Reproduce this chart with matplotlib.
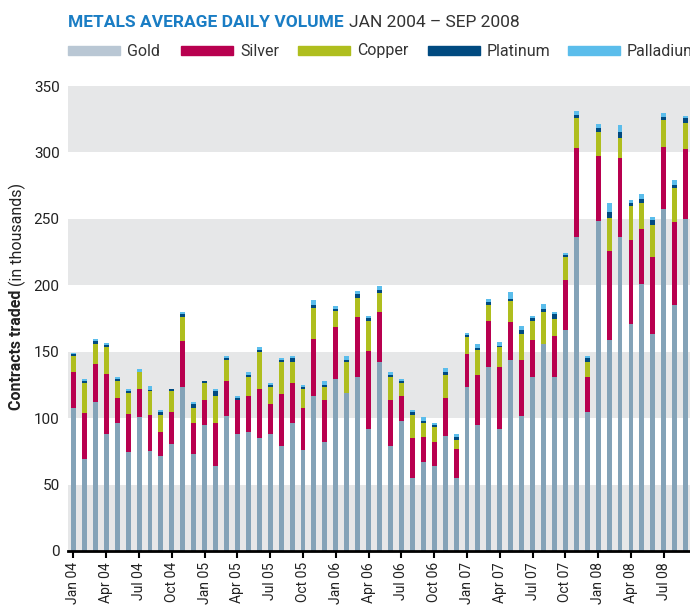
# Metals average daily volume, Jan 2004 - Sep 2008, stacked bars
import matplotlib
matplotlib.use("Agg")
import matplotlib.pyplot as plt
import matplotlib.patches as mpatches
import numpy as np

plt.rcParams['font.family'] = ['Roboto', 'DejaVu Sans']

# Month ticks every quarter
tick_labels = ["Jan 04", "Apr 04", "Jul 04", "Oct 04", "Jan 05", "Apr 05", "Jul 05", "Oct 05",
               "Jan 06", "Apr 06", "Jul 06", "Oct 06", "Jan 07", "Apr 07", "Jul 07", "Oct 07",
               "Jan 08", "Apr 08", "Jul 08"]

# Contracts traded per month (thousands)
gold = [108.0, 68.9, 111.8, 87.7, 96.7, 74.2, 100.5, 74.9, 71.2, 80.2,
        123.8, 72.7, 95.2, 63.7, 101.3, 87.7, 89.2, 84.7, 87.7, 79.4,
        96.0, 75.7, 116.3, 81.7, 129.1, 119.3, 130.6, 91.5, 141.9, 78.7,
        97.5, 54.6, 66.7, 63.7, 86.2, 54.6, 123.8, 94.5, 138.8, 91.5,
        143.4, 101.3, 130.6, 156.1, 130.6, 166.7, 236.6, 104.3, 248.6, 159.1,
        236.6, 171.2, 201.3, 163.7, 257.6, 185.5, 250.1]
silver = [27.1, 34.6, 28.6, 45.9, 18.8, 28.6, 21.1, 27.8, 18.0, 24.8,
          34.6, 24.0, 18.8, 32.3, 26.3, 25.6, 27.1, 36.9, 23.3, 38.4,
          30.8, 31.6, 43.6, 31.6, 39.8, 0.0, 45.8, 59.4, 38.3, 34.6,
          19.5, 30.1, 18.8, 18.0, 29.3, 21.8, 24.8, 37.6, 34.6, 47.3,
          28.6, 42.8, 28.5, 0.0, 31.6, 37.6, 66.9, 26.3, 48.9, 67.0,
          59.4, 63.1, 41.3, 57.9, 46.7, 62.4, 52.7]
copper = [11.3, 23.3, 15.7, 20.3, 12.8, 15.8, 12.8, 18.0, 12.8, 15.8,
          18.0, 11.3, 12.1, 21.0, 15.8, 0.7, 15.0, 28.5, 12.8, 24.1,
          15.8, 14.3, 23.3, 9.8, 12.1, 22.6, 14.3, 22.5, 14.3, 18.0,
          9.8, 17.3, 10.5, 12.0, 17.3, 6.8, 12.8, 19.5, 12.1, 15.1,
          16.5, 19.6, 14.3, 24.1, 12.8, 17.3, 22.6, 11.3, 18.0, 24.8,
          15.0, 25.6, 19.6, 24.0, 20.3, 25.5, 19.5]
platinum = [1.7, 1.5, 2.3, 1.5, 1.0, 1.5, 0.3, 0.3, 2.3, 0.8,
            2.3, 2.3, 1.5, 3.1, 2.2, 1.5, 1.5, 1.5, 1.5, 1.5,
            2.3, 1.5, 2.3, 2.2, 1.5, 1.7, 3.0, 2.3, 2.2, 1.5,
            1.5, 2.3, 2.2, 0.8, 2.3, 2.3, 1.5, 1.5, 2.2, 0.7,
            1.5, 3.0, 2.3, 2.3, 3.7, 1.5, 2.2, 3.7, 3.0, 4.5,
            4.5, 2.3, 3.0, 3.8, 2.2, 2.3, 3.8]
palladium = [1.3, 1.3, 1.5, 1.5, 1.3, 1.5, 2.3, 3.0, 1.5, 0.7,
             1.5, 1.5, 0.7, 2.2, 1.5, 0.8, 2.3, 2.3, 1.5, 2.2,
             2.2, 2.2, 3.7, 3.0, 2.2, 2.8, 2.3, 1.5, 3.0, 2.3,
             1.5, 2.2, 2.3, 2.2, 3.0, 2.2, 1.5, 3.0, 2.3, 3.0,
             5.2, 3.0, 1.5, 3.7, 1.5, 1.5, 3.0, 1.5, 3.1, 6.8,
             5.3, 2.2, 3.7, 2.2, 3.0, 3.7, 1.5]

series = [("Gold", gold, "#84a3b8", "#b9c7d4"),
          ("Silver", silver, "#b8004f", "#b8004f"),
          ("Copper", copper, "#afbe1e", "#afbe1e"),
          ("Platinum", platinum, "#004a80", "#004a80"),
          ("Palladium", palladium, "#5bbdeb", "#5bbdeb")]

W, H = 690, 605
fig = plt.figure(figsize=(W / 100, H / 100), dpi=100)
ax = fig.add_axes([68 / W, 54 / H, 622 / W, 465 / H])

x = np.arange(len(gold))
bottom = np.zeros(len(gold))
for name, vals, col, _ in series:
    ax.bar(x, vals, width=0.45, bottom=bottom, color=col, linewidth=0, zorder=2)
    bottom += np.array(vals)

# alternating background bands
for lo in range(0, 350, 100):
    ax.axhspan(lo, lo + 50, color="#e6e7e8", lw=0, zorder=0)

ax.set_xlim(-0.5, 56.4)
ax.set_ylim(0, 350)
ax.set_yticks(range(0, 351, 50))
ax.set_xticks(np.arange(0, len(gold), 3))
ax.set_xticklabels(tick_labels, rotation=90, fontsize=10, color="#222222")
ax.tick_params(axis="y", length=0, pad=6, labelsize=11, labelcolor="#222222")
ax.tick_params(axis="x", length=5, width=1.5, color="black", pad=3)
for s in ["top", "right", "left"]:
    ax.spines[s].set_visible(False)
ax.spines["bottom"].set_linewidth(2)
ax.spines["bottom"].set_zorder(3)

# title in two styles
fig.canvas.draw()
r = fig.canvas.get_renderer()
t1 = fig.text(68 / W, 1 - 27 / H, "METALS AVERAGE DAILY VOLUME", color="#1a7dc4",
              fontsize=12.5, fontweight="bold", va="baseline")
bb = t1.get_window_extent(r)
fig.text(bb.x1 / W + 5 / W, 1 - 27 / H, "JAN 2004 \u2013 SEP 2008", color="#333333",
         fontsize=12.5, va="baseline")

# legend
leg_x = [68, 181, 298, 428, 568]
for (name, _, _, lcol), lx in zip(series, leg_x):
    fig.patches.append(mpatches.Rectangle((lx / W, 1 - 55 / H), 52 / W, 9 / H,
                                          color=lcol, transform=fig.transFigure))
    fig.text((lx + 59) / W, 1 - 51 / H, name, fontsize=11.5, color="#333333", va="center")

# y label in two styles
y1 = fig.text(17 / W, 1 - 410 / H, "Contracts traded", rotation=90, fontsize=11.5,
              fontweight="bold", ha="center", va="bottom", color="#222222")
bb = y1.get_window_extent(r)
fig.text(17 / W, bb.y1 / H + 4 / H, "(in thousands)", rotation=90, fontsize=11.5,
         ha="center", va="bottom", color="#222222")

fig.savefig("out.png", dpi=100)
